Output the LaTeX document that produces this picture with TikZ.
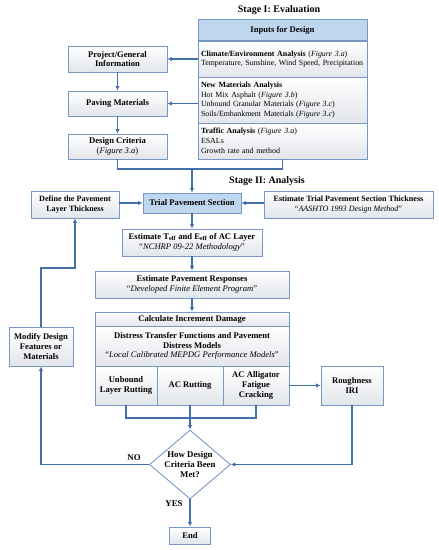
\documentclass[tikz,border=0pt]{standalone}
\usepackage{fontspec}
\setmainfont{Liberation Serif}
\usetikzlibrary{shapes.geometric,arrows.meta}
\definecolor{linecol}{RGB}{66,112,166}
\definecolor{bordcol}{RGB}{120,152,196}
\definecolor{hdrfill}{RGB}{190,214,238}
\definecolor{shadecol}{RGB}{226,229,234}
\tikzset{
  box/.style={draw=bordcol, line width=0.9pt, top color=white, bottom color=shadecol,
    align=center, inner sep=1pt, font=\fontsize{8.6}{9.8}\selectfont\bfseries},
  hbox/.style={box, top color=hdrfill, bottom color=hdrfill, fill=hdrfill},
  sect/.style={draw=bordcol, line width=0.9pt, top color=white, bottom color=shadecol,
    align=left, anchor=center, inner xsep=3pt, font=\fontsize{7.9}{9.8}\selectfont},
  conn/.style={draw=linecol, line width=1.4pt},
  arr/.style={conn, -{Latex[length=4.5pt,width=4.5pt]}},
  ttl/.style={font=\fontsize{10}{11}\selectfont\bfseries},
  lbl/.style={font=\fontsize{8.8}{10}\selectfont\bfseries},
  diam/.style={draw=bordcol, line width=0.9pt, diamond, fill=white, inner sep=0pt}
}
\begin{document}
\begin{tikzpicture}[x=1pt,y=-1pt]
\useasboundingbox (0,0) rectangle (439,550);
% Stage I
\node[ttl] (st1) at (279,10) {Stage I: Evaluation};
\node[hbox, minimum width=169pt, minimum height=21pt] (inhdr) at (282.5,30) {Inputs for Design};
\node[sect, minimum width=169pt, minimum height=36pt, text width=163pt] (climate) at (282.5,59)
  {\textbf{Climate/Environment Analysis} (\textit{Figure 3.a})\\Temperature, Sunshine, Wind Speed, Precipitation};
\node[sect, minimum width=169pt, minimum height=46pt, text width=163pt] (newmat) at (282.5,100)
  {\textbf{New Materials Analysis}\\Hot Mix Asphalt (\textit{Figure 3.b})\\Unbound Granular Materials (\textit{Figure 3.c})\\Soils/Embankment Materials (\textit{Figure 3.c})};
\node[sect, minimum width=169pt, minimum height=36pt, text width=163pt] (traffic) at (282.5,141)
  {\textbf{Traffic Analysis} (\textit{Figure 3.a})\\ESALs\\Growth rate and method};
\node[box, minimum width=99pt, minimum height=26pt] (project) at (117.5,59) {Project/General\\Information};
\node[box, minimum width=99pt, minimum height=25pt] (paving) at (117.5,103.5) {Paving Materials};
\node[box, minimum width=99pt, minimum height=25pt] (criteria) at (117.5,146.5) {Design Criteria\\\mdseries(\textit{Figure 3.a})};
\draw[arr] (climate.west) -- (project.east);
\draw[arr] (newmat.west |- paving) -- (paving.east);
\draw[arr] (project.south) -- (paving.north);
\draw[arr] (paving.south) -- (criteria.north);
\coordinate (j1) at (192,169);
\draw[conn] (criteria.south) |- (j1) -| (traffic.south);
% Stage II
\node[ttl] (st2) at (267,181) {Stage II: Analysis};
\node[hbox, minimum width=98pt, minimum height=20pt] (trial) at (192,203) {Trial Pavement Section};
\node[box, minimum width=88pt, minimum height=27pt, font=\fontsize{8.1}{9.4}\selectfont\bfseries] (define) at (75,204.5) {Define the Pavement\\Layer Thickness};
\node[box, minimum width=169pt, minimum height=27pt, font=\fontsize{8.1}{9.4}\selectfont\bfseries] (estim) at (348.5,204.5) {Estimate Trial Pavement Section Thickness\\\mdseries“\textit{AASHTO 1993 Design Method}”};
\draw[arr] (j1) -- (trial.north);
\draw[arr] (define.east |- trial) -- (trial.west);
\draw[arr] (estim.west |- trial) -- (trial.east);
\node[box, minimum width=140pt, minimum height=27pt] (teff) at (192,242.5) {Estimate T\textsubscript{eff} and E\textsubscript{eff} of AC Layer\\\mdseries“\textit{NCHRP 09-22 Methodology}”};
\node[box, minimum width=194pt, minimum height=27pt] (resp) at (192,284.5) {Estimate Pavement Responses\\\mdseries“\textit{Developed Finite Element Program}”};
\draw[arr] (trial.south) -- (teff.north);
\draw[arr] (teff.south) -- (resp.north);
\node[box, minimum width=194pt, minimum height=14pt] (calc) at (192,319) {Calculate Increment Damage};
\node[box, minimum width=194pt, minimum height=40pt] (distress) at (192,346) {Distress Transfer Functions and Pavement\\Distress Models\\\mdseries“\textit{Local Calibrated MEPDG Performance Models}”};
\draw[arr] (resp.south) -- (calc.north);
\node[box, minimum width=62pt, minimum height=39pt] (unbound) at (126,385.5) {Unbound\\Layer Rutting};
\node[box, minimum width=66pt, minimum height=39pt] (acrut) at (190,385.5) {AC Rutting};
\node[box, minimum width=66pt, minimum height=39pt] (acfat) at (256,385.5) {AC Alligator\\Fatigue\\Cracking};
\node[box, minimum width=62pt, minimum height=39pt] (rough) at (352,385.5) {Roughness\\IRI};
\draw[arr] (acfat.east) -- (rough.west);
\node[box, minimum width=64pt, minimum height=39pt] (modify) at (41,346.5) {Modify Design\\Features or\\Materials};
\node[diam, minimum width=81pt, minimum height=69pt,
  label={[lbl, align=center]center:How Design\\Criteria Been\\Met?}] (dec) at (190,464.5) {};
\node[box, minimum width=41pt, minimum height=17pt] (end) at (190,535.5) {End};
\coordinate (j2) at (190,418);
\draw[conn] (unbound.south) |- (j2) -| (acfat.south);
\draw[conn] (acrut.south) -- (j2);
\draw[arr] (j2) -- (dec.north);
\draw[arr] (rough.south) |- (dec.east);
\draw[arr] (dec.west) -| (modify.south);
\coordinate (j3) at (41,268);
\draw[arr] (modify.north) -- (j3) -| (define.south);
\draw[arr] (dec.south) -- (end.north);
\node[lbl] (no) at (134,458) {NO};
\node[lbl] (yes) at (174,504) {YES};
\end{tikzpicture}
\end{document}
